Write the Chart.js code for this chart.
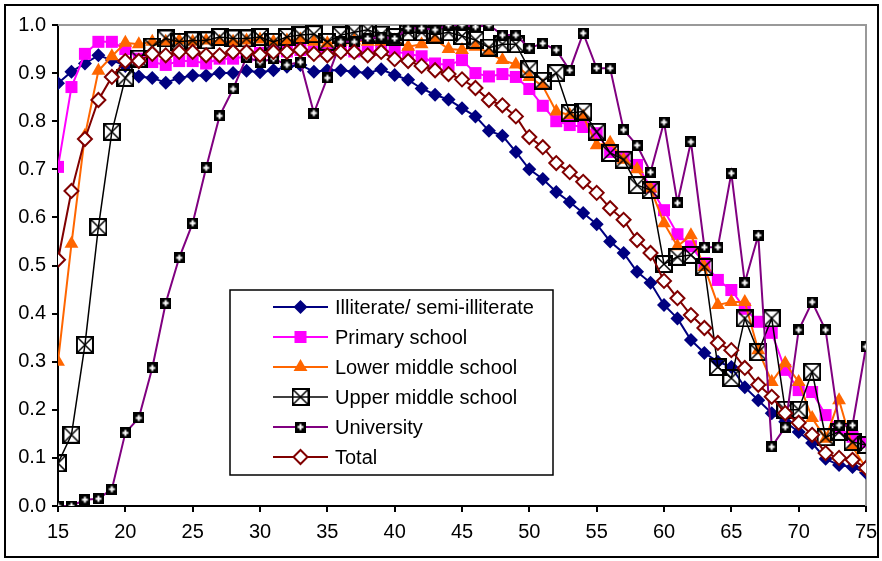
<!DOCTYPE html>
<html>
<head>
<meta charset="utf-8">
<script src="https://cdn.jsdelivr.net/npm/chart.js@4.4.1/dist/chart.umd.min.js"></script>
<style>
  body { margin: 0; background: #fff; }
  #frame { position: absolute; left: 4px; top: 4px; width: 871px; height: 550px; border: 2px solid #000; }
  canvas { display: block; }
</style>
</head>
<body>
<div id="frame"><canvas id="eduChart" width="871" height="550"></canvas></div>
<script>
// ages on the x axis
const ages = [];
for (let a = 15; a <= 75; a++) ages.push(a);

const seriesNames = ['Illiterate/ semi-illiterate', 'Primary school', 'Lower middle school',
  'Upper middle school', 'University', 'Total'];

const illiterate = [0.879, 0.903, 0.920, 0.937, 0.927, 0.915, 0.893, 0.890, 0.880, 0.890,
  0.895, 0.895, 0.900, 0.900, 0.905, 0.902, 0.906, 0.913, 0.917, 0.903,
  0.906, 0.906, 0.903, 0.900, 0.908, 0.896, 0.886, 0.868, 0.855, 0.845,
  0.827, 0.810, 0.780, 0.770, 0.736, 0.700, 0.680, 0.653, 0.632, 0.609,
  0.586, 0.550, 0.526, 0.487, 0.464, 0.418, 0.390, 0.345, 0.318, 0.300,
  0.289, 0.247, 0.220, 0.193, 0.175, 0.154, 0.131, 0.098, 0.085, 0.081, 0.069];

const primary = [0.705, 0.871, 0.940, 0.965, 0.965, 0.950, 0.930, 0.923, 0.917, 0.925,
  0.925, 0.920, 0.930, 0.930, 0.935, 0.942, 0.945, 0.945, 0.948, 0.945,
  0.945, 0.948, 0.945, 0.945, 0.948, 0.945, 0.940, 0.935, 0.920, 0.917,
  0.927, 0.900, 0.893, 0.898, 0.892, 0.867, 0.832, 0.800, 0.792, 0.788,
  0.775, 0.736, 0.726, 0.709, 0.663, 0.615, 0.565, 0.540, 0.505, 0.470,
  0.449, 0.410, 0.383, 0.360, 0.283, 0.241, 0.237, 0.189, 0.162, 0.144, 0.133];

const lowerMiddle = [0.300, 0.545, 0.770, 0.905, 0.935, 0.963, 0.960, 0.965, 0.965, 0.968,
  0.965, 0.968, 0.965, 0.965, 0.968, 0.970, 0.965, 0.968, 0.970, 0.965,
  0.962, 0.965, 0.968, 0.965, 0.965, 0.968, 0.955, 0.960, 0.970, 0.950,
  0.948, 0.955, 0.942, 0.927, 0.918, 0.892, 0.873, 0.820, 0.813, 0.810,
  0.750, 0.755, 0.720, 0.700, 0.660, 0.588, 0.540, 0.563, 0.497, 0.418,
  0.424, 0.424, 0.324, 0.258, 0.297, 0.258, 0.183, 0.140, 0.220, 0.123, 0.079];

const upperMiddle = [0.089, 0.148, 0.335, 0.580, 0.778, 0.890, 0.930, 0.955, 0.972, 0.965,
  0.968, 0.968, 0.975, 0.972, 0.972, 0.975, 0.965, 0.975, 0.979, 0.981,
  0.965, 0.979, 0.985, 0.990, 0.980, 0.975, 0.985, 0.985, 0.980, 0.985,
  0.977, 0.969, 0.953, 0.960, 0.960, 0.908, 0.884, 0.900, 0.817, 0.820,
  0.778, 0.734, 0.720, 0.667, 0.657, 0.503, 0.518, 0.522, 0.497, 0.289,
  0.266, 0.390, 0.320, 0.390, 0.200, 0.200, 0.279, 0.143, 0.154, 0.133, 0.127];

const university = [0.000, 0.000, 0.013, 0.015, 0.035, 0.152, 0.183, 0.287, 0.422, 0.516,
  0.588, 0.703, 0.811, 0.867, 0.933, 0.923, 0.930, 0.917, 0.923, 0.817,
  0.890, 0.965, 0.965, 0.972, 0.975, 0.972, 0.993, 0.993, 0.990, 1.000,
  1.000, 0.996, 1.000, 0.979, 0.979, 0.952, 0.962, 0.948, 0.906, 0.983,
  0.910, 0.910, 0.782, 0.750, 0.694, 0.798, 0.630, 0.757, 0.538, 0.538,
  0.692, 0.464, 0.563, 0.123, 0.164, 0.366, 0.424, 0.366, 0.168, 0.168, 0.331];

const total = [0.512, 0.655, 0.763, 0.844, 0.892, 0.925, 0.925, 0.940, 0.937, 0.944,
  0.944, 0.937, 0.937, 0.944, 0.944, 0.938, 0.944, 0.944, 0.948, 0.940,
  0.937, 0.944, 0.944, 0.937, 0.944, 0.929, 0.925, 0.915, 0.906, 0.898,
  0.887, 0.869, 0.844, 0.833, 0.810, 0.767, 0.746, 0.713, 0.694, 0.674,
  0.651, 0.619, 0.595, 0.553, 0.526, 0.468, 0.432, 0.397, 0.370, 0.339,
  0.324, 0.287, 0.252, 0.227, 0.193, 0.173, 0.148, 0.110, 0.100, 0.096, 0.079];

// custom marker: box with an X
function makeXBox() {
  const c = document.createElement('canvas');
  c.width = 18; c.height = 18;
  const g = c.getContext('2d');
  g.strokeStyle = '#000';
  g.lineWidth = 2;
  g.strokeRect(1, 1, 16, 16);
  g.lineWidth = 1.5;
  g.beginPath();
  g.moveTo(2, 2); g.lineTo(16, 16);
  g.moveTo(16, 2); g.lineTo(2, 16);
  g.stroke();
  return c;
}
// custom marker: black square with white plus
function makePlusSquare() {
  const c = document.createElement('canvas');
  c.width = 11; c.height = 11;
  const g = c.getContext('2d');
  g.fillStyle = '#000';
  g.fillRect(0, 0, 11, 11);
  g.fillStyle = '#fff';
  g.fillRect(4.5, 2.5, 2, 6);
  g.fillRect(2.5, 4.5, 6, 2);
  return c;
}
const xBox = makeXBox();
const plusSquare = makePlusSquare();

const toPoints = vals => ages.map((a, i) => ({ x: a, y: vals[i] }));

const datasets = [
  { label: seriesNames[0], data: toPoints(illiterate), borderColor: '#000080', backgroundColor: '#000080',
    borderWidth: 2, pointStyle: 'rectRot', pointRadius: 7, pointBorderWidth: 0, order: 6 },
  { label: seriesNames[1], data: toPoints(primary), borderColor: '#FF00FF', backgroundColor: '#FF00FF',
    borderWidth: 2, pointStyle: 'rect', pointRadius: 8.5, pointBorderWidth: 0, order: 5 },
  { label: seriesNames[2], data: toPoints(lowerMiddle), borderColor: '#FF6600', backgroundColor: '#FF6600',
    borderWidth: 2, pointStyle: 'triangle', pointRadius: 8, pointBorderWidth: 0, order: 4 },
  { label: seriesNames[3], data: toPoints(upperMiddle), borderColor: '#000000', backgroundColor: 'rgba(0,0,0,0)',
    borderWidth: 1.5, pointStyle: xBox, pointRadius: 9, pointBorderWidth: 0, order: 3 },
  { label: seriesNames[4], data: toPoints(university), borderColor: '#800080', backgroundColor: '#000',
    borderWidth: 2, pointStyle: plusSquare, pointRadius: 6, pointBorderWidth: 0, order: 2 },
  { label: seriesNames[5], data: toPoints(total), borderColor: '#800000', backgroundColor: '#FFFFFF',
    borderWidth: 2, pointStyle: 'rectRot', pointRadius: 7, pointBorderWidth: 2, pointBorderColor: '#800000', order: 1 }
];

// gray border on top and right of the plot area
const plotBorder = {
  id: 'plotBorder',
  beforeDatasetsDraw(chart) {
    const { ctx, chartArea: a } = chart;
    ctx.save();
    ctx.strokeStyle = '#999';
    ctx.lineWidth = 2;
    ctx.beginPath();
    ctx.moveTo(a.left, a.top);
    ctx.lineTo(a.right, a.top);
    ctx.lineTo(a.right, a.bottom);
    ctx.stroke();
    ctx.restore();
  }
};

// boxed legend inside the plot
const boxLegend = {
  id: 'boxLegend',
  afterDraw(chart) {
    const ctx = chart.ctx;
    ctx.save();
    ctx.fillStyle = '#fff';
    ctx.fillRect(224, 284, 323, 185);
    ctx.strokeStyle = '#000';
    ctx.lineWidth = 1.5;
    ctx.strokeRect(224, 284, 323, 185);
    chart.data.datasets.forEach((ds, i) => {
      const y = 301 + i * 30;
      ctx.strokeStyle = ds.borderColor;
      ctx.lineWidth = ds.borderWidth;
      ctx.beginPath();
      ctx.moveTo(267, y);
      ctx.lineTo(322, y);
      ctx.stroke();
      ctx.fillStyle = ds.backgroundColor;
      ctx.strokeStyle = ds.pointBorderColor || ds.borderColor;
      Chart.helpers.drawPoint(ctx, {
        pointStyle: ds.pointStyle, rotation: 0,
        radius: ds.pointRadius, borderWidth: ds.pointBorderWidth
      }, 294.5, y);
      ctx.fillStyle = '#000';
      ctx.font = '20px "Liberation Sans", Arial, sans-serif';
      ctx.textBaseline = 'middle';
      ctx.fillText(ds.label, 329, y + 1);
    });
    ctx.restore();
  }
};

new Chart(document.getElementById('eduChart'), {
  type: 'line',
  data: { datasets },
  plugins: [plotBorder, boxLegend],
  options: {
    responsive: false,
    animation: false,
    layout: { padding: { left: 0, top: 19, right: 11, bottom: 10 } },
    plugins: { legend: { display: false }, tooltip: { enabled: false } },
    elements: { line: { tension: 0 } },
    scales: {
      x: {
        type: 'linear', min: 15, max: 75,
        afterFit: s => { s.height = 40; s.paddingRight = 0; s.paddingLeft = 0; },
        ticks: { stepSize: 5, padding: 8, color: '#000', maxRotation: 0,
          font: { family: '"Liberation Sans", Arial, sans-serif', size: 20 } },
        grid: { drawOnChartArea: false, drawTicks: true, tickLength: 6, color: '#000', lineWidth: 2 },
        border: { color: '#000', width: 2 }
      },
      y: {
        min: 0, max: 1,
        afterFit: s => { s.width = 52; s.paddingTop = 0; s.paddingBottom = 0; },
        ticks: { stepSize: 0.1, padding: 6, color: '#000',
          callback: v => v.toFixed(1),
          font: { family: '"Liberation Sans", Arial, sans-serif', size: 20 } },
        grid: { drawOnChartArea: false, drawTicks: true, tickLength: 6, color: '#000', lineWidth: 2 },
        border: { color: '#000', width: 2 }
      }
    }
  }
});
</script>
</body>
</html>
